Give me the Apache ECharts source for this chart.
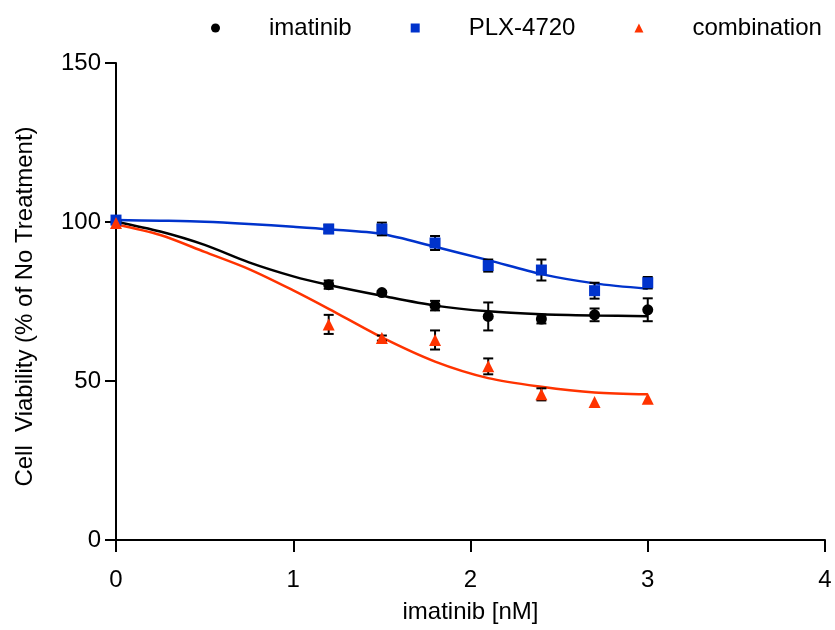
<!DOCTYPE html>
<html>
<head>
<meta charset="utf-8">
<title>Cell Viability</title>
<script src="https://cdn.jsdelivr.net/npm/echarts@6/dist/echarts.min.js"></script>
<style>
  html, body { margin: 0; padding: 0; background: #fff; }
  #chart { width: 835px; height: 630px; }
</style>
</head>
<body>
<div id="chart"></div>
<script>
var doseX = [0, 1.2, 1.5, 1.8, 2.1, 2.4, 2.7, 3.0];
var imatinibMean = [100, 80.3, 77.8, 73.7, 70.3, 69.5, 70.8, 72.4];
var imatinibErr = [0, 1.3, 0.5, 1.5, 4.4, 1.4, 2.0, 3.6];
var plxMean = [100.6, 97.8, 97.8, 93.4, 86.3, 84.9, 78.4, 80.9];
var plxErr = [0, 1.3, 2.0, 2.2, 1.9, 3.3, 2.5, 1.8];
var comboMean = [99.7, 67.8, 63.5, 62.9, 54.6, 45.8, 43.4, 44.4];
var comboErr = [0, 3.0, 0.8, 3.0, 2.5, 1.9, 0, 0];

// fitted curves
var curveX = [0, 0.25, 0.5, 0.75, 1.0, 1.2, 1.5, 1.8, 2.1, 2.4, 2.7, 3.0];
var imatinibFit = [100.1, 97.0, 92.8, 87.3, 82.9, 80.2, 76.8, 73.7, 71.9, 71.0, 70.6, 70.4];
var plxFit = [100.6, 100.4, 100.1, 99.4, 98.5, 97.7, 96.2, 92.2, 88.0, 83.6, 80.7, 79.0];
var comboFit = [99.2, 95.9, 90.6, 85.2, 78.5, 72.7, 63.7, 56.1, 50.9, 48.2, 46.4, 45.8];

var xTicks = [0, 1, 2, 3, 4];
var yTicks = [0, 50, 100, 150];

var black = '#000000', blue = '#0033cc', red = '#ff3300';
var font = 'Liberation Sans, Arial, sans-serif';

function pairs(xs, ys) {
  return xs.map(function (x, i) { return [x, ys[i]]; });
}
function errData(means, errs) {
  return doseX.map(function (x, i) { return [x, means[i] - errs[i], means[i] + errs[i]]; })
    .filter(function (d, i) { return errs[i] > 0; });
}
function renderErr(params, api) {
  var lo = api.coord([api.value(0), api.value(1)]);
  var hi = api.coord([api.value(0), api.value(2)]);
  var w = 5;
  var st = { stroke: black, lineWidth: 2 };
  return {
    type: 'group',
    children: [
      { type: 'line', shape: { x1: lo[0], y1: lo[1], x2: hi[0], y2: hi[1] }, style: st },
      { type: 'line', shape: { x1: lo[0] - w, y1: lo[1], x2: lo[0] + w, y2: lo[1] }, style: st },
      { type: 'line', shape: { x1: hi[0] - w, y1: hi[1], x2: hi[0] + w, y2: hi[1] }, style: st }
    ]
  };
}
function errSeries(means, errs) {
  return { type: 'custom', renderItem: renderErr, data: errData(means, errs), z: 3, silent: true };
}
function fitSeries(ys, color) {
  return {
    type: 'line', data: pairs(curveX, ys), smooth: 0.3, showSymbol: false,
    lineStyle: { color: color, width: 2.5 }, z: 2, silent: true
  };
}

var chart = echarts.init(document.getElementById('chart'));
var option = {
  animation: false,
  textStyle: { fontFamily: font },
  grid: { left: 116, right: 10, top: 63, bottom: 90 },
  legend: {
    left: 206, top: 11,
    itemWidth: 9, itemHeight: 9, itemGap: 59,
    textStyle: { fontSize: 24, color: black, padding: [0, 0, 0, 44] },
    data: [
      { name: 'imatinib', icon: 'circle', itemStyle: { color: black } },
      { name: 'PLX-4720', icon: 'rect', itemStyle: { color: blue } },
      { name: 'combination', icon: 'triangle', itemStyle: { color: red } }
    ]
  },
  xAxis: {
    type: 'value', min: 0, max: 4, interval: 1,
    name: 'imatinib [nM]', nameLocation: 'middle', nameGap: 60,
    nameTextStyle: { fontSize: 24, color: black },
    axisLine: { lineStyle: { color: black, width: 2 } },
    axisTick: { length: 12, lineStyle: { color: black, width: 2 } },
    axisLabel: { fontSize: 24, color: black, margin: 28,
      formatter: function (v) { return xTicks.indexOf(v) >= 0 ? String(v) : ''; } },
    splitLine: { show: false }
  },
  yAxis: {
    type: 'value', min: 0, max: 150, interval: 50,
    name: 'Cell  Viability (% of No Treatment)', nameLocation: 'middle', nameGap: 79,
    nameTextStyle: { fontSize: 24, color: black, padding: [0, 10, 0, 0] },
    axisLine: { lineStyle: { color: black, width: 2 } },
    axisTick: { length: 11, lineStyle: { color: black, width: 2 } },
    axisLabel: { fontSize: 24, color: black, margin: 15,
      formatter: function (v) { return yTicks.indexOf(v) >= 0 ? String(v) : ''; } },
    splitLine: { show: false }
  },
  series: [
    fitSeries(imatinibFit, black),
    fitSeries(plxFit, blue),
    fitSeries(comboFit, red),
    errSeries(imatinibMean, imatinibErr),
    errSeries(plxMean, plxErr),
    errSeries(comboMean, comboErr),
    { name: 'imatinib', type: 'scatter', symbol: 'circle', symbolSize: 11,
      itemStyle: { color: black, opacity: 1 }, data: pairs(doseX, imatinibMean), z: 4 },
    { name: 'PLX-4720', type: 'scatter', symbol: 'rect', symbolSize: 11,
      itemStyle: { color: blue, opacity: 1 }, data: pairs(doseX, plxMean), z: 4 },
    { name: 'combination', type: 'scatter', symbol: 'triangle', symbolSize: 12,
      itemStyle: { color: red, opacity: 1 }, data: pairs(doseX, comboMean), z: 4 }
  ]
};
chart.setOption(option);
</script>
</body>
</html>
